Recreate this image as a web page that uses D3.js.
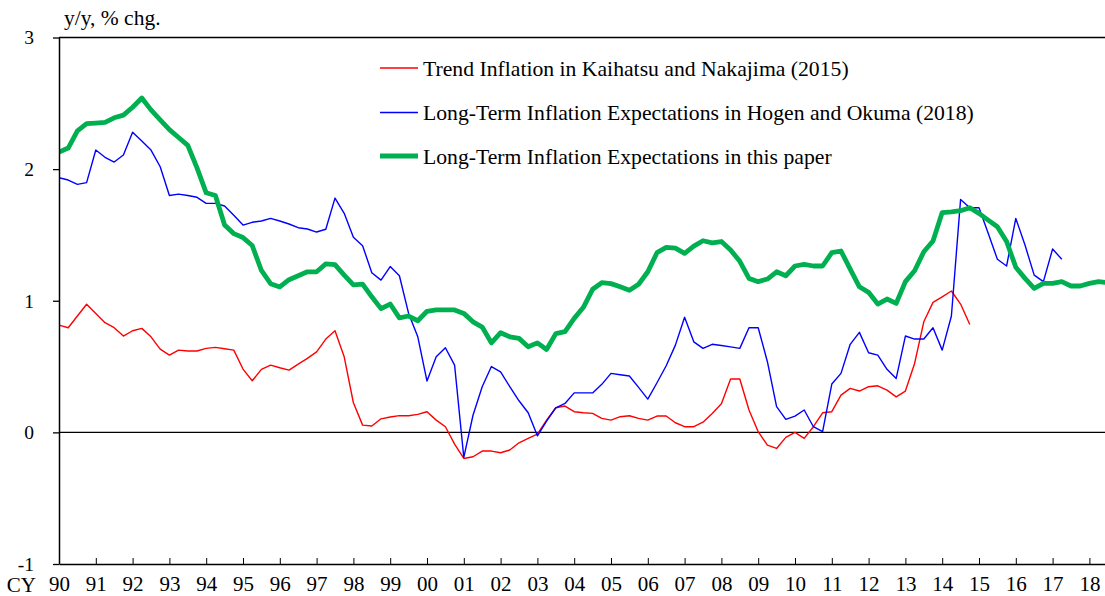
<!DOCTYPE html>
<html>
<head>
<meta charset="utf-8">
<script src="https://cdn.jsdelivr.net/npm/d3@7"></script>
<style>
  html, body { margin: 0; padding: 0; background: #ffffff; }
  svg { display: block; font-family: "Liberation Serif", "Times New Roman", serif; }
</style>
</head>
<body>
<svg id="chart" width="1105" height="596"></svg>
<script>
// ---- data (quarterly, starting 1990Q1) ----
const startYear = 1990;
const yearLabels = ["90","91","92","93","94","95","96","97","98","99","00","01","02","03","04","05","06","07","08","09","10","11","12","13","14","15","16","17","18"];
const yTicks = [-1, 0, 1, 2, 3];
const seriesNames = [
  "Trend Inflation in Kaihatsu and Nakajima (2015)",
  "Long-Term Inflation Expectations in Hogen and Okuma (2018)",
  "Long-Term Inflation Expectations in this paper"
];

const trendKN = [
  0.815,0.795,0.884,0.973, 0.904,0.833,0.795,0.732, 0.772,0.79,0.726,0.633, 0.587,0.625,0.618,0.618,
  0.638,0.646,0.635,0.625, 0.481,0.392,0.479,0.511, 0.491,0.473,0.519,0.562, 0.612,0.709,0.772,0.574,
  0.225,0.055,0.048,0.103, 0.117,0.127,0.126,0.137, 0.157,0.093,0.043,-0.089, -0.198,-0.185,-0.142,-0.142,
  -0.155,-0.134,-0.079,-0.046, -0.013,0.093,0.187,0.20, 0.157,0.149,0.144,0.106, 0.093,0.119,0.126,0.106,
  0.093,0.124,0.124,0.073, 0.043,0.043,0.077,0.144, 0.218,0.405,0.405,0.17, 0.005,-0.097,-0.122,-0.038,
  0.0,-0.046,0.043,0.149, 0.157,0.283,0.334,0.314, 0.347,0.354,0.321,0.27, 0.314,0.524,0.84,0.988,
  1.03,1.074,0.975,0.82
];

const hogenOkuma = [
  1.935,1.917,1.884,1.897, 2.145,2.09,2.054,2.107, 2.28,2.214,2.145,2.018, 1.80,1.81,1.80,1.786,
  1.74,1.74,1.72,1.65, 1.575,1.596,1.606,1.626, 1.606,1.583,1.555,1.545, 1.522,1.543,1.78,1.664,
  1.482,1.418,1.213,1.157, 1.26,1.19,0.904,0.726, 0.39,0.575,0.643,0.511, -0.19,0.13,0.347,0.50,
  0.46,0.347,0.24,0.149, -0.026,0.086,0.187,0.22, 0.30,0.30,0.30,0.365, 0.448,0.438,0.428,0.342,
  0.253,0.377,0.506,0.663, 0.874,0.688,0.638,0.669, 0.66,0.65,0.638,0.795, 0.795,0.537,0.195,0.099,
  0.124,0.17,0.043,0.005, 0.367,0.448,0.669,0.76, 0.605,0.587,0.479,0.41, 0.732,0.709,0.709,0.795,
  0.625,0.884,1.77,1.707, 1.707,1.512,1.315,1.264, 1.626,1.423,1.195,1.145, 1.393,1.315
];

const thisPaper = [
  2.13,2.16,2.29,2.345, 2.35,2.355,2.39,2.41, 2.47,2.54,2.45,2.375, 2.30,2.24,2.18,2.01,
  1.82,1.80,1.575,1.51, 1.48,1.42,1.23,1.13, 1.105,1.16,1.19,1.22, 1.22,1.28,1.275,1.195,
  1.12,1.127,1.03,0.94, 0.975,0.87,0.884,0.848, 0.92,0.93,0.93,0.93, 0.904,0.84,0.80,0.68,
  0.757,0.726,0.714,0.65, 0.68,0.63,0.75,0.765, 0.866,0.95,1.087,1.137, 1.13,1.106,1.08,1.125,
  1.22,1.365,1.405,1.40, 1.36,1.415,1.456,1.44, 1.45,1.385,1.30,1.17, 1.145,1.165,1.22,1.19,
  1.264,1.277,1.264,1.264, 1.365,1.378,1.24,1.106, 1.064,0.975,1.013,0.98, 1.145,1.228,1.372,1.454,
  1.67,1.676,1.684,1.707, 1.664,1.613,1.562,1.45, 1.254,1.17,1.094,1.132, 1.132,1.145,1.112,1.112,
  1.132,1.145,1.137
];

const seriesColors = ["#ff0000", "#0000ff", "#00b050"];
const seriesWidths = [1.4, 1.4, 4.8];

// ---- layout ----
const svg = d3.select("#chart");
const plot = { left: 59, right: 1105, top: 37.5, bottom: 564 };

const x = d3.scaleLinear().domain([startYear, 2018.424]).range([plot.left, plot.right]);
const y = d3.scaleLinear().domain([-1, 3]).range([plot.bottom, plot.top]);

svg.append("defs").append("clipPath").attr("id", "clip")
  .append("rect").attr("x", plot.left).attr("y", 0)
  .attr("width", plot.right - plot.left).attr("height", 596);

// top border
svg.append("line")
  .attr("x1", plot.left).attr("x2", plot.right)
  .attr("y1", y(3)).attr("y2", y(3))
  .attr("stroke", "#000").attr("stroke-width", 1.3);

// zero line
svg.append("line")
  .attr("x1", plot.left).attr("x2", plot.right)
  .attr("y1", y(0)).attr("y2", y(0))
  .attr("stroke", "#000").attr("stroke-width", 1.3);

// lines
const allSeries = [trendKN, hogenOkuma, thisPaper];
const lineGen = d3.line()
  .x((d, i) => x(startYear + i / 4))
  .y(d => y(d));

const g = svg.append("g").attr("clip-path", "url(#clip)");
allSeries.forEach((s, k) => {
  g.append("path")
    .datum(s)
    .attr("d", lineGen)
    .attr("fill", "none")
    .attr("stroke", seriesColors[k])
    .attr("stroke-width", seriesWidths[k])
    .attr("stroke-linejoin", "round");
});

// x axis
const yearValues = yearLabels.map((_, i) => startYear + i);
const xAxis = d3.axisBottom(x)
  .tickValues(yearValues)
  .tickFormat((d, i) => yearLabels[i])
  .tickSizeInner(-6)
  .tickSizeOuter(0)
  .tickPadding(12);
const gx = svg.append("g")
  .attr("transform", `translate(0,${plot.bottom})`)
  .call(xAxis);
gx.select(".domain").attr("stroke", "#000").attr("stroke-width", 1.5);
gx.selectAll(".tick line").attr("stroke", "#000").attr("stroke-width", 1);
gx.selectAll(".tick text")
  .attr("font-family", "Liberation Serif")
  .attr("font-size", 21)
  .attr("fill", "#000");

svg.append("text")
  .attr("x", 36).attr("y", plot.bottom + 13).attr("dy", "0.71em")
  .attr("text-anchor", "end")
  .attr("font-size", 21)
  .attr("fill", "#000")
  .text("CY");

// y axis
const yAxis = d3.axisLeft(y)
  .tickValues(yTicks)
  .tickFormat(d => String(d))
  .tickSizeInner(6)
  .tickSizeOuter(0)
  .tickPadding(19);
const gy = svg.append("g")
  .attr("transform", `translate(${plot.left},0)`)
  .call(yAxis);
gy.select(".domain").attr("stroke", "#000").attr("stroke-width", 1.5);
gy.selectAll(".tick line").attr("stroke", "#000").attr("stroke-width", 1.3);
gy.selectAll(".tick text")
  .attr("font-family", "Liberation Serif")
  .attr("font-size", 19.5)
  .attr("fill", "#000");

// unit label
svg.append("text")
  .attr("x", 64).attr("y", 25)
  .attr("font-size", 21.5)
  .attr("fill", "#000")
  .text("y/y, % chg.");

// legend
const legendY = [68, 112.5, 156];
const legend = svg.append("g");
seriesNames.forEach((name, k) => {
  legend.append("line")
    .attr("x1", 380).attr("x2", 418)
    .attr("y1", legendY[k]).attr("y2", legendY[k])
    .attr("stroke", seriesColors[k])
    .attr("stroke-width", seriesWidths[k]);
  legend.append("text")
    .attr("x", 423).attr("y", legendY[k]).attr("dy", "0.35em")
    .attr("font-size", 21.7)
    .attr("fill", "#000")
    .text(name);
});
</script>
</body>
</html>
